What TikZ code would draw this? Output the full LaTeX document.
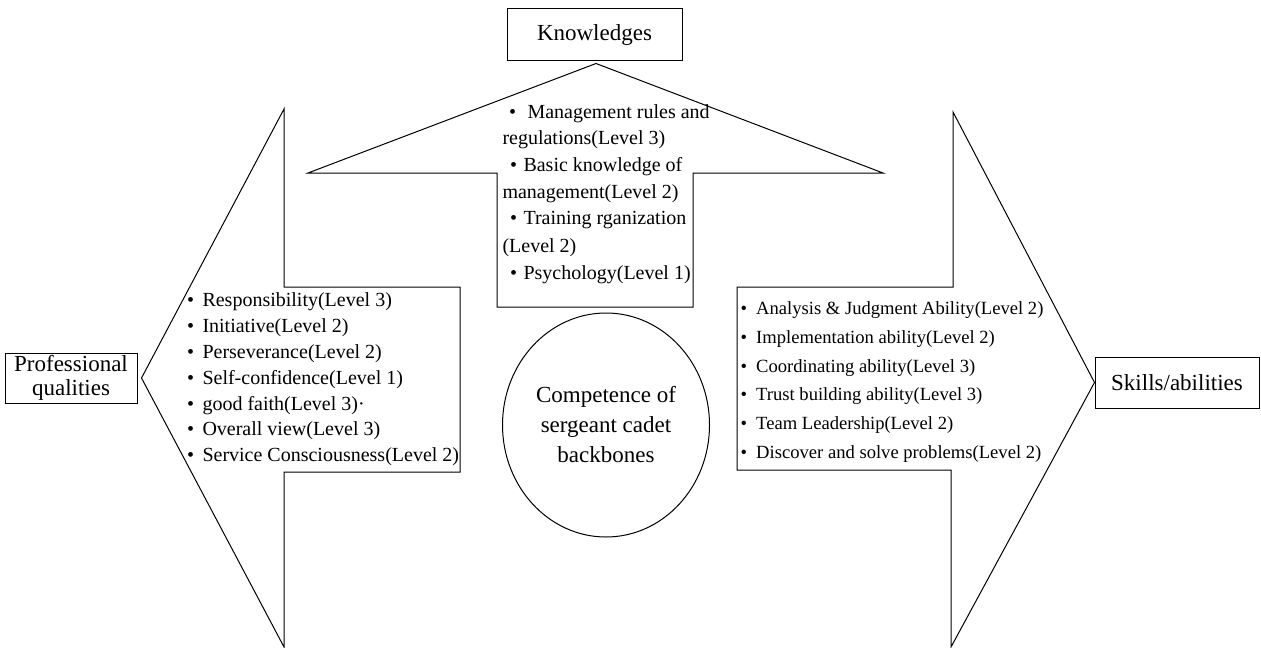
\documentclass[tikz,border=0pt]{standalone}
\usepackage{fontspec}
\setmainfont{Liberation Serif}
\usetikzlibrary{shapes.geometric}

\begin{document}
\begin{tikzpicture}[
  x=0.5pt, y=-0.5pt,
  line width=0.5pt,
  heading/.style={draw,fill=white,inner sep=0pt,align=center,
                  font=\fontsize{11.5}{12}\selectfont},
  outline/.style={draw,line join=miter},
  item/.style={anchor=west,inner sep=0pt,text height=8pt,text depth=1.4pt,
               font=\fontsize{10}{12}\selectfont},
  skillitem/.style={item,text height=7.5pt,text depth=1.34pt,
                    font=\fontsize{9.3}{11}\selectfont},
  core/.style={draw,ellipse,inner sep=0pt,align=center,
               minimum width=103.5pt,minimum height=112pt,
               font=\fontsize{11.5}{15}\selectfont}
]
\useasboundingbox (0,0) rectangle (1261,647);

\node[heading,minimum width=87.5pt,minimum height=26pt] (know) at (594.5,35) {Knowledges};
\node[heading,minimum width=66pt,minimum height=25pt] (prof) at (71,378)
  {Professional\\qualities};
\node[heading,minimum width=82pt,minimum height=25.5pt] (skill) at (1177,382.5)
  {Skills/abilities};
\node[core] (comp) at (606,425) {Competence of\\sergeant cadet\\backbones};

\draw[outline] (284,109) -- ([shift={(4,0)}]prof.east) -- (284,647) -- (284,472)
  -- (460,472) -- (460,287) -- (284,287) -- cycle;
\draw[outline] ([shift={(1.5,2)}]know.south) -- (883,173) -- (693,173) -- (693,307)
  -- (497,307) -- (497,173) -- (308,173) -- cycle;
\draw[outline] (737,287) -- (953,287) -- (953,112) -- (skill.west) -- (951,647)
  -- (951,470) -- (737,470) -- cycle;

\foreach \y/\txt [count=\i] in {
  300/{Responsibility(Level 3)},
  326/{Initiative(Level 2)},
  352/{Perseverance(Level 2)},
  378/{Self-confidence(Level 1)},
  404/{good faith(Level 3)·},
  429/{Overall view(Level 3)},
  455/{Service Consciousness(Level 2)}}
  {
    \node[item] (q\i) at (186.5,\y) {\textbullet\hspace{4.25pt}\txt};
  }

\foreach \y/\txt [count=\i] in {
  308/{Analysis \& Judgment Ability(Level 2)},
  337/{Implementation ability(Level 2)},
  366/{Coordinating ability(Level 3)},
  394/{Trust building ability(Level 3)},
  423/{Team Leadership(Level 2)},
  452/{Discover and solve problems(Level 2)}}
  {
    \node[skillitem] (s\i) at (740,\y) {\textbullet\hspace{4.6pt}\txt};
  }

\node[item] (k1) at (508.5,112) {\textbullet\hspace{5.75pt}Management rules and};
\node[item] (k2) at (502,138) {regulations(Level 3)};
\node[item] (k3) at (509.5,165) {\textbullet\hspace{3.25pt}Basic knowledge of};
\node[item] (k4) at (502,192) {management(Level 2)};
\node[item] (k5) at (509.5,218) {\textbullet\hspace{3.25pt}Training rganization};
\node[item] (k6) at (502,246) {(Level 2)};
\node[item] (k7) at (509.5,273) {\textbullet\hspace{3.25pt}Psychology(Level 1)};
\end{tikzpicture}
\end{document}
